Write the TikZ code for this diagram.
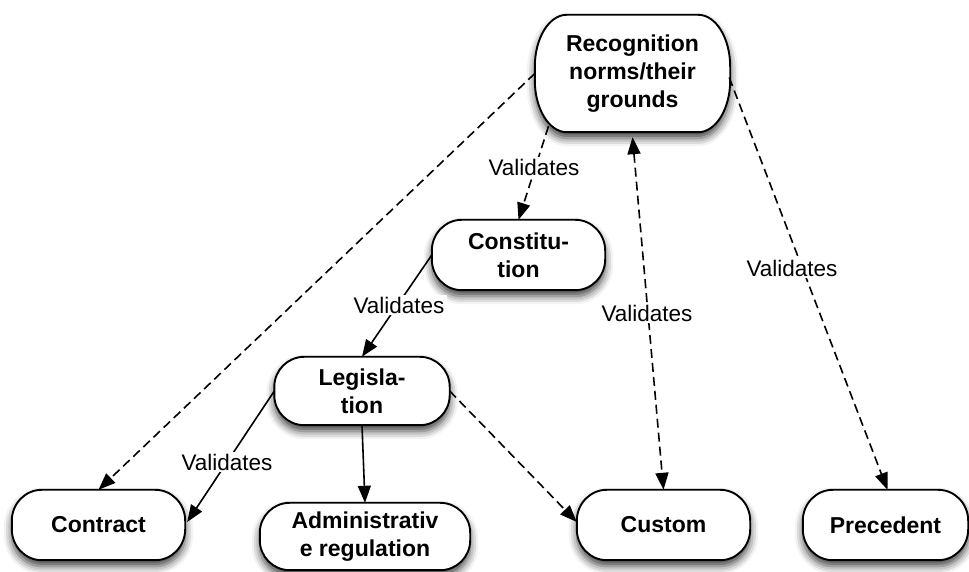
\documentclass[tikz,border=0pt]{standalone}
\usepackage{fontspec}
\setmainfont{Liberation Sans}
\usetikzlibrary{arrows.meta,calc,shadows.blur,backgrounds}

% outline of a box with elliptical corners: #1 node, #2 horizontal radius, #3 vertical radius
\newcommand\pilloutline[3]{%
  \draw[outline] ($(#1.north west)+(#2,0)$) -- ($(#1.north east)+(-#2,0)$)
    arc[start angle=90,end angle=0,x radius=#2pt,y radius=#3pt]
    -- ($(#1.south east)+(0,#3)$)
    arc[start angle=0,end angle=-90,x radius=#2pt,y radius=#3pt]
    -- ($(#1.south west)+(#2,0)$)
    arc[start angle=270,end angle=180,x radius=#2pt,y radius=#3pt]
    -- ($(#1.north west)+(0,-#3)$)
    arc[start angle=180,end angle=90,x radius=#2pt,y radius=#3pt]
    -- cycle;}

\tikzset{
  box/.style={inner sep=0pt, align=center,
    font=\fontsize{23}{28}\selectfont\bfseries},
  outline/.style={draw=black, line width=1.9pt, fill=white,
    blur shadow={shadow xshift=0pt, shadow yshift=-6pt,
      shadow blur radius=8pt, shadow opacity=75}},
  tip/.style={-{Triangle[length=17pt,width=13pt]}},
  solidedge/.style={tip, line width=1.6pt},
  dashededge/.style={tip, line width=1.6pt, dash pattern=on 9pt off 5pt},
  lbl/.style={fill=white, inner xsep=3pt, inner ysep=2pt,
    font=\fontsize{22.5}{27}\selectfont},
}

\begin{document}
\begin{tikzpicture}[x=1pt,y=1pt]
\useasboundingbox (0,0) rectangle (969,572);

% concept boxes
\node[box, minimum width=195pt, minimum height=117pt] (rec) at (632.5,498.5) {Recognition\\norms/their\\grounds};
\node[box, minimum width=173pt, minimum height=70pt] (con) at (518.5,317) {Constitu-\\tion};
\node[box, minimum width=175pt, minimum height=68pt] (leg) at (362,181) {Legisla-\\tion};
\node[box, minimum width=173pt, minimum height=70pt] (contract) at (98.5,47) {Contract};
\node[box, minimum width=210pt, minimum height=67pt] (adm) at (365,35.5) {Administrativ\\e regulation};
\node[box, minimum width=173pt, minimum height=70pt] (custom) at (663.5,47) {Custom};
\node[box, minimum width=165pt, minimum height=70pt] (prec) at (885.5,47) {Precedent};

\begin{scope}[on background layer]
  \pilloutline{rec}{32}{52}
  \pilloutline{con}{30}{31}
  \pilloutline{leg}{30}{30}
  \pilloutline{contract}{30}{31}
  \pilloutline{adm}{30}{30}
  \pilloutline{custom}{30}{31}
  \pilloutline{prec}{30}{31}
\end{scope}

% connectors
\draw[dashededge] (rec.west) -- (contract.north);
\draw[dashededge] ($(rec.south)+(-84,6)$) -- (con.north);
\draw[dashededge, {Triangle[length=17pt,width=13pt]}-{Triangle[length=17pt,width=13pt]}]
  ($(rec.south)+(0,-5)$) -- (custom.north);
\draw[dashededge] ($(rec.east)+(-1,-4)$) -- ($(prec.north)+(2,0)$);
\draw[solidedge] (con.west) -- (leg.north);
\draw[solidedge] (leg.west) -- ($(contract.east)+(2,3)$);
\draw[solidedge] (leg.south) -- (adm.north);
\draw[dashededge] (leg.east) -- ($(custom.west)+(0,3)$);

% connector labels
\node[lbl] (v1) at (534,405) {Validates};
\node[lbl] (v2) at (399,267) {Validates};
\node[lbl] (v3) at (227,110) {Validates};
\node[lbl] (v4) at (647,259) {Validates};
\node[lbl] (v5) at (792,304) {Validates};
\end{tikzpicture}
\end{document}
